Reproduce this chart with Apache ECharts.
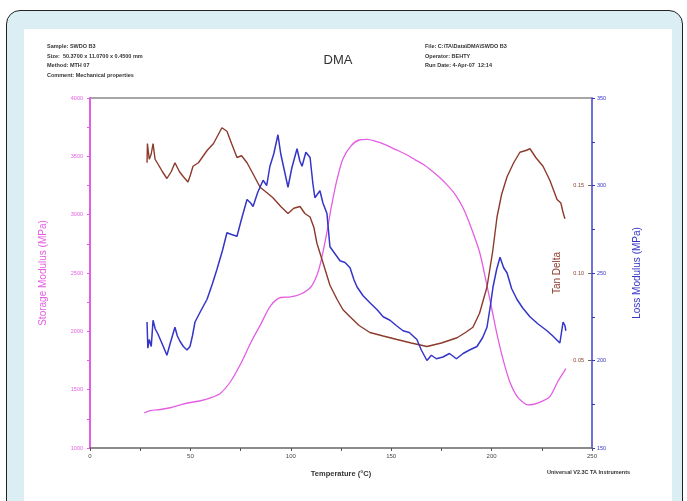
<!DOCTYPE html>
<html>
<head>
<meta charset="utf-8">
<script src="https://cdn.jsdelivr.net/npm/echarts@6/dist/echarts.min.js"></script>
<style>
  body { margin: 0; background: #fff; }
  #card { position: absolute; left: 6px; top: 10px; width: 677px; height: 510px; border: 1.5px solid #222; border-radius: 14px; background: #daeef3; box-sizing: border-box; }
  #panel { position: absolute; left: 24px; top: 29px; width: 648px; height: 472px; background: #fff; }
  #main { position: absolute; left: 0; top: 0; width: 687px; height: 501px; }
</style>
</head>
<body>
<div id="card"></div>
<div id="panel"></div>
<div id="main"></div>
<script>
// storage modulus (MPa) vs temperature
var tempStorage = [27, 30, 35, 40, 45, 50, 55, 60, 65, 70, 75, 80, 85, 90, 95, 100, 105, 110, 113, 115, 118, 120, 123, 126, 130, 134, 138, 142, 147, 152, 157, 162, 167, 172, 177, 182, 186, 190, 194, 197, 200, 203, 206, 209, 212, 215, 218, 221, 225, 229, 233, 237]
var storage = [1300, 1320, 1330, 1345, 1370, 1390, 1405, 1430, 1470, 1570, 1720, 1900, 2060, 2220, 2290, 2295, 2320, 2380, 2480, 2600, 2850, 3050, 3300, 3480, 3590, 3640, 3645, 3630, 3600, 3560, 3520, 3470, 3420, 3350, 3270, 3170, 3050, 2880, 2680, 2450, 2200, 1950, 1740, 1570, 1460, 1400, 1370, 1375, 1400, 1440, 1570, 1680]

// tan delta
var tempTan = [28.4, 28.6, 29.5, 30.5, 31.4, 32.4, 34, 36, 38.3, 40.5, 42.3, 44.5, 46.5, 48.8, 50, 51.3, 54, 58.3, 61.5, 65.7, 68.2, 70.5, 73.2, 75.5, 78.2, 81.5, 84.7, 88, 91.1, 95, 98.6, 101.5, 104.6, 107, 109.6, 111.5, 113, 116, 119.5, 123, 126, 129.5, 134, 139.4, 146, 152.9, 160, 167.8, 175, 182.8, 187, 190.7, 194, 197.7, 200.5, 202.7, 205, 207.7, 211, 214.1, 217, 219.1, 222, 225.6, 229, 232.6, 234.5, 235.5, 236.5]
var tanDelta = [0.163, 0.174, 0.165, 0.168, 0.174, 0.165, 0.162, 0.158, 0.154, 0.158, 0.163, 0.158, 0.155, 0.152, 0.156, 0.161, 0.163, 0.170, 0.174, 0.183, 0.181, 0.174, 0.166, 0.167, 0.163, 0.156, 0.149, 0.146, 0.143, 0.138, 0.134, 0.137, 0.138, 0.134, 0.132, 0.126, 0.117, 0.106, 0.093, 0.085, 0.079, 0.075, 0.070, 0.066, 0.064, 0.062, 0.060, 0.058, 0.060, 0.063, 0.066, 0.069, 0.077, 0.092, 0.112, 0.132, 0.145, 0.155, 0.163, 0.169, 0.170, 0.171, 0.166, 0.161, 0.153, 0.142, 0.140, 0.135, 0.131]

// loss modulus (MPa)
var tempLoss = [28.4, 28.8, 29.5, 30.5, 31.4, 32.5, 33.9, 35, 36.5, 38.3, 40, 42.3, 43.5, 44.8, 46.5, 48.3, 49.8, 51, 52.3, 55, 58.3, 61, 63.2, 66, 68.2, 70.5, 73.2, 75.5, 78.2, 80, 81.2, 83.5, 86.2, 88, 89.6, 91.5, 93.6, 95, 97.1, 98.6, 100.5, 103.1, 104.5, 105.6, 107.5, 109.6, 111, 112, 114.5, 116, 118, 119.5, 122, 124.5, 127, 129.5, 131.5, 133, 136, 139.4, 143, 146, 149.4, 152.5, 155.9, 159, 162.8, 165, 167.8, 170, 172.5, 175.8, 179, 182.5, 185.8, 189, 192.7, 195.5, 197.7, 199.5, 200.7, 202.5, 204.2, 206, 207.7, 210, 212.6, 215.5, 219.1, 223, 227.6, 230.5, 234, 235.6, 236.5, 237]
var lossModulus = [222, 207, 212, 208, 223, 218, 215, 212, 208, 203, 210, 219, 214, 211, 208, 206, 208, 214, 222, 228, 235, 244, 252, 263, 273, 272, 271, 281, 292, 290, 288, 296, 303, 300, 311, 318, 329, 318, 307, 299, 310, 321, 314, 311, 319, 316, 301, 293, 297, 290, 284, 265, 261, 257, 256, 253, 246, 242, 237, 233, 229, 225, 223, 220, 217, 216, 212, 206, 200, 203, 201, 202, 204, 201, 204, 206, 208, 213, 219, 232, 242, 252, 259, 253, 250, 241, 235, 230, 225, 221, 217, 214, 210, 222, 220, 217]

var headerLeft = ['Sample: SWDO B3', 'Size:  50.3700 x 11.0700 x 0.4500 mm', 'Method: MTH 07', 'Comment: Mechanical properties']
var headerRight = ['File: C:\\TA\\Data\\DMA\\SWDO B3', 'Operator: BEHTY', 'Run Date: 4-Apr-07  12:14']

function pairs (xs, ys) {
  let out = []
  for (let i = 0; i < xs.length; i++) {
    out.push([xs[i], ys[i]])
  }
  return out
}

let myChart = echarts.init(document.getElementById('main'))
let font = 'Liberation Sans, Arial, sans-serif'
let magenta = '#e45ee4'
let brown = '#8c3a2c'
let blue = '#3535c8'

let option = {
  animation: false,
  textStyle: { fontFamily: font },
  title: {
    text: 'DMA',
    left: 333,
    top: 49,
    textAlign: 'center',
    textStyle: { fontSize: 13, fontWeight: 'normal', color: '#333', fontFamily: font }
  },
  graphic: [
    {
      type: 'text',
      left: 47,
      top: 42,
      style: { text: headerLeft.join('\n'), fontSize: 5.5, lineHeight: 9.5, fontWeight: 'bold', fill: '#333', fontFamily: font }
    },
    {
      type: 'text',
      left: 425,
      top: 42,
      style: { text: headerRight.join('\n'), fontSize: 5.5, lineHeight: 9.5, fontWeight: 'bold', fill: '#333', fontFamily: font }
    },
    {
      type: 'text',
      left: 547,
      top: 469,
      style: { text: 'Universal V2.3C TA Instruments', fontSize: 5.5, fontWeight: 'bold', fill: '#333', fontFamily: font }
    },
    {
      type: 'line',
      shape: { x1: 90, y1: 98, x2: 592, y2: 98 },
      style: { stroke: '#888', lineWidth: 1.5 }
    }
  ],
  grid: { left: 90, top: 98, width: 502, height: 350 },
  xAxis: {
    type: 'value',
    min: 0,
    max: 250,
    interval: 50,
    name: 'Temperature (°C)',
    nameLocation: 'middle',
    nameGap: 22,
    nameTextStyle: { fontSize: 7.5, color: '#333', fontWeight: 'bold' },
    axisLine: { lineStyle: { color: '#666', width: 1.5 } },
    axisTick: { length: 3, lineStyle: { color: '#555' } },
    minorTick: { show: true, splitNumber: 2, length: 3, lineStyle: { color: '#555' } },
    axisLabel: { fontSize: 6, color: '#444', margin: 5 },
    splitLine: { show: false }
  },
  yAxis: [
    {
      type: 'value',
      min: 1000,
      max: 4000,
      interval: 500,
      position: 'left',
      name: 'Storage Modulus (MPa)',
      nameLocation: 'middle',
      nameRotate: 90,
      nameGap: 42,
      nameTextStyle: { fontSize: 10, color: magenta },
      axisLine: { show: true, lineStyle: { color: magenta, width: 2 } },
      axisTick: { length: 3, lineStyle: { color: magenta } },
      minorTick: { show: true, splitNumber: 2, length: 3, lineStyle: { color: magenta } },
      axisLabel: { fontSize: 5.5, color: magenta, margin: 7, formatter: function (v) { return String(v) } },
      splitLine: { show: false }
    },
    {
      type: 'value',
      min: 150,
      max: 350,
      interval: 50,
      position: 'right',
      name: 'Loss Modulus (MPa)',
      nameLocation: 'middle',
      nameRotate: 90,
      nameGap: 40,
      nameTextStyle: { fontSize: 10, color: blue },
      axisLine: { show: true, lineStyle: { color: '#7070d8', width: 2 } },
      axisTick: { length: 3, inside: false, lineStyle: { color: blue } },
      minorTick: { show: true, splitNumber: 2, length: 3, lineStyle: { color: blue } },
      axisLabel: { fontSize: 5.5, color: blue, margin: 5 },
      splitLine: { show: false }
    },
    {
      type: 'value',
      min: 0,
      max: 0.2,
      interval: 0.05,
      position: 'right',
      name: 'Tan Delta',
      nameLocation: 'middle',
      nameRotate: 90,
      nameGap: -40,
      nameTextStyle: { fontSize: 10, color: brown },
      axisLine: { show: false },
      axisTick: { show: true, inside: true, length: 4, lineStyle: { color: '#666' } },
      axisLabel: {
        inside: true,
        margin: 8,
        fontSize: 5.5,
        color: brown,
        showMinLabel: false,
        showMaxLabel: false,
        formatter: function (v) { return v.toFixed(2) }
      },
      splitLine: { show: false }
    }
  ],
  series: [
    {
      name: 'Storage Modulus',
      type: 'line',
      yAxisIndex: 0,
      symbol: 'none',
      smooth: 0.3,
      lineStyle: { color: magenta, width: 1.3 },
      data: pairs(tempStorage, storage)
    },
    {
      name: 'Tan Delta',
      type: 'line',
      yAxisIndex: 2,
      symbol: 'none',
      lineStyle: { color: brown, width: 1.4 },
      data: pairs(tempTan, tanDelta)
    },
    {
      name: 'Loss Modulus',
      type: 'line',
      yAxisIndex: 1,
      symbol: 'none',
      lineStyle: { color: blue, width: 1.5 },
      data: pairs(tempLoss, lossModulus)
    }
  ]
}
myChart.setOption(option)
</script>
</body>
</html>
